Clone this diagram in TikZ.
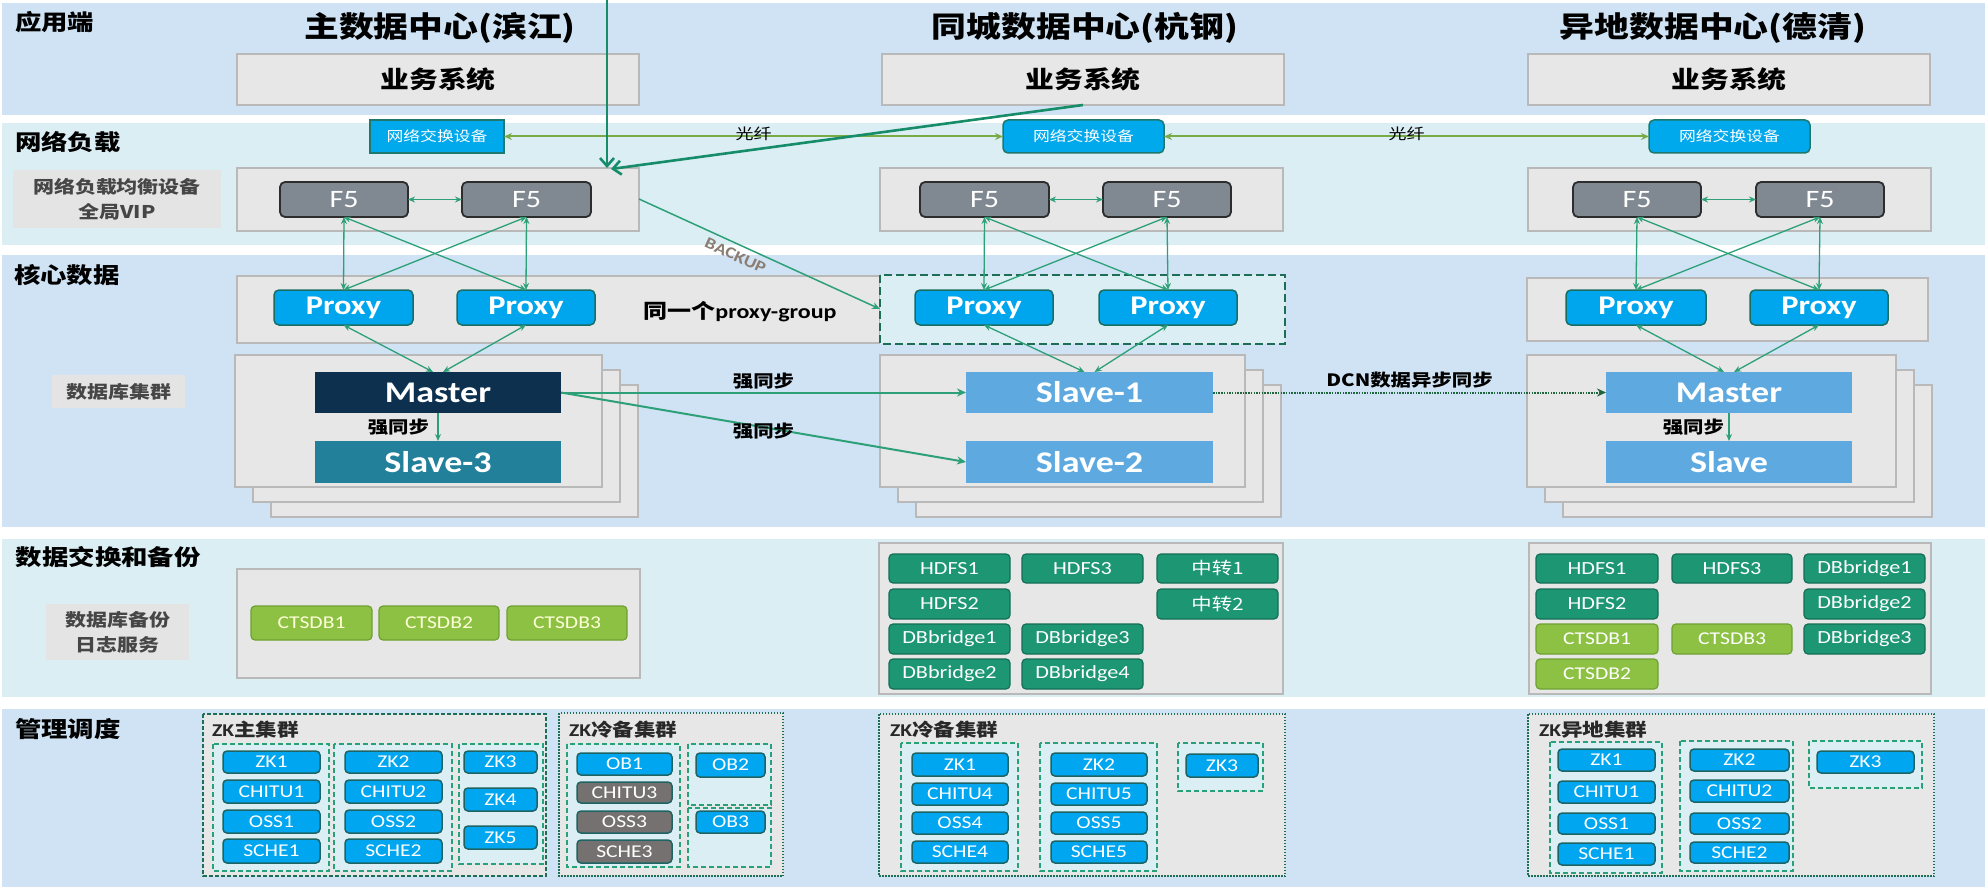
\documentclass[tikz,border=0pt]{standalone}
\usepackage{fontspec}
\setmainfont{Carlito}[FakeStretch=1.2]
\newfontfamily\zh{Noto Sans CJK SC}[FakeStretch=1.2]
\usetikzlibrary{arrows.meta,calc}
\definecolor{bandA}{RGB}{207,227,244}
\definecolor{bandB}{RGB}{218,238,244}
\definecolor{gfill}{RGB}{231,231,231}
\definecolor{gborder}{RGB}{185,185,185}
\definecolor{lfill}{RGB}{228,228,228}
\definecolor{ltext}{RGB}{70,70,70}
\definecolor{swblue}{RGB}{0,168,236}
\definecolor{swborder}{RGB}{30,120,110}
\definecolor{f5fill}{RGB}{128,136,146}
\definecolor{f5border}{RGB}{45,45,45}
\definecolor{pxblue}{RGB}{0,166,237}
\definecolor{pxborder}{RGB}{25,110,100}
\definecolor{navy}{RGB}{12,48,78}
\definecolor{slvthree}{RGB}{34,128,155}
\definecolor{lblue}{RGB}{94,170,224}
\definecolor{tealg}{RGB}{28,150,115}
\definecolor{tealb}{RGB}{20,110,85}
\definecolor{lgreen}{RGB}{141,193,68}
\definecolor{lgborder}{RGB}{110,160,50}
\definecolor{ctext}{RGB}{255,255,215}
\definecolor{zkblue}{RGB}{0,166,240}
\definecolor{zkborder}{RGB}{30,100,100}
\definecolor{zkgray}{RGB}{118,113,113}
\definecolor{lcyan}{RGB}{218,238,243}
\definecolor{grpc}{RGB}{40,160,120}
\definecolor{darkg}{RGB}{30,110,85}
\definecolor{cgreen}{RGB}{45,160,120}
\definecolor{tgreen}{RGB}{22,140,105}
\definecolor{fibg}{RGB}{120,170,70}
\definecolor{dcncol}{RGB}{30,100,60}
\definecolor{bktext}{RGB}{140,125,115}
\newcommand\fs[2]{\fontsize{#1}{#2}\selectfont}
\newcommand\bx[7]{\node[#1,minimum width={#4pt-#2pt},minimum height={#5pt-#3pt}] (#7) at ({(#2+#4)/2},{(#3+#5)/2}) {#6};}
\tikzset{
  every node/.style={inner sep=0pt,outer sep=0pt},
  gbox/.style={draw=gborder,fill=gfill,line width=1.5pt},
  sec/.style={anchor=west,font={\zh\bfseries\fs{22}{24}}},
  ttl/.style={font={\zh\bfseries\fs{29}{32}}},
  biz/.style={gbox,font={\zh\bfseries\fs{24}{28}}},
  labbox/.style={fill=lfill,text=ltext,align=center,font={\zh\bfseries\fs{17.5}{25}}},
  sw/.style={fill=swblue,draw=swborder,line width=1.5pt,text=white,font={\zh\fs{14}{16}}},
  f5/.style={fill=f5fill,draw=f5border,line width=1.8pt,rounded corners=5pt,text=white,font={\fs{25}{28}}},
  px/.style={fill=pxblue,draw=pxborder,line width=1.5pt,rounded corners=5pt,text=white,font={\bfseries\fs{27}{28}}},
  dbb/.style={text=white,font={\bfseries\fs{30}{32}}},
  tbox/.style={fill=tealg,draw=tealb,line width=1.2pt,rounded corners=4pt,text=white,font={\fs{18.5}{20}}},
  lgbox/.style={fill=lgreen,draw=lgborder,line width=1.2pt,rounded corners=4pt,text=ctext,font={\fs{18}{20}}},
  zk/.style={fill=zkblue,draw=zkborder,line width=1.5pt,rounded corners=4pt,text=white,font={\fs{18}{20}}},
  zkg/.style={zk,fill=zkgray},
  grp/.style={fill=lcyan,draw=grpc,line width=1.8pt,dash pattern=on 5pt off 3pt},
  zkmain/.style={fill=gfill,draw=darkg,line width=1.5pt,dash pattern=on 4pt off 2pt},
  zkcold/.style={fill=gfill,draw=darkg,line width=1.2pt,dash pattern=on 1.5pt off 1.5pt},
  zklab/.style={anchor=west,text={rgb,255:red,40;green,40;blue,40},font={\bfseries\fs{18}{20}}},
  thinc/.style={draw=cgreen,line width=1.3pt,{Stealth[length=7pt,width=6pt]}-{Stealth[length=7pt,width=6pt]}},
  thickarr/.style={draw=tgreen,line width=2.6pt,-{Straight Barb[length=8pt,width=14pt]}},
  fiber/.style={draw=fibg,line width=2pt,{Stealth[length=8pt,width=7pt]}-{Stealth[length=8pt,width=7pt]}},
  fiblab/.style={font={\zh\fs{15}{17}},yshift=3pt},
  sync/.style={draw=cgreen,line width=1.6pt,-{Stealth[length=7pt,width=6pt]}},
  syncB/.style={draw=cgreen,line width=2pt,-{Stealth[length=9pt,width=8pt]}},
  synclab/.style={font={\zh\bfseries\fs{17}{19}}},
  dcn/.style={draw=dcncol,line width=2pt,dash pattern=on 1.5pt off 1.2pt,-{Stealth[length=9pt,width=8pt]}},
  bklab/.style={text=bktext,font={\bfseries\fs{16}{18}}},
  bkline/.style={draw=cgreen,line width=1.5pt,-{Stealth[length=8pt,width=7pt]}},
  pgbox/.style={fill=lcyan,draw=darkg,line width=2.5pt,dash pattern=on 8pt off 4pt}
}
\begin{document}
\begin{tikzpicture}[x=1pt,y=-1pt]
\useasboundingbox (0,0) rectangle (1987,888);
\fill[white] (0,0) rectangle (1987,888);
% bands
\fill[bandA] (2,3) rectangle (1985,115);
\fill[bandB] (2,123) rectangle (1985,245);
\fill[bandA] (2,255) rectangle (1985,527);
\fill[bandB] (2,539) rectangle (1985,697);
\fill[bandA] (2,709) rectangle (1985,887);
% section labels
\node[sec] (secApp) at (15,22) {应用端};
\node[sec] (secNet) at (15,142) {网络负载};
\node[sec] (secCore) at (14,275) {核心数据};
\node[sec] (secEx) at (16,557) {数据交换和备份};
\node[sec] (secMg) at (15,729) {管理调度};
% titles
\node[ttl] (tMain) at (440,28) {主数据中心(滨江)};
\node[ttl] (tMid) at (1085,28) {同城数据中心(杭钢)};
\node[ttl] (tRem) at (1713,28) {异地数据中心(德清)};
% business systems
\bx{biz}{237}{54}{639}{105}{业务系统}{bizL}
\bx{biz}{882}{54}{1284}{105}{业务系统}{bizM}
\bx{biz}{1528}{54}{1930}{105}{业务系统}{bizR}
% switches
\bx{sw}{370}{120}{504}{153}{网络交换设备}{swL}
\bx{sw,rounded corners=5pt}{1003}{120}{1164}{153}{网络交换设备}{swM}
\bx{sw,rounded corners=5pt}{1649}{120}{1810}{153}{网络交换设备}{swR}
% label boxes
\bx{labbox}{13}{170}{221}{228}{网络负载均衡设备\\全局VIP}{lbNet}
\bx{labbox}{52}{375}{185}{408}{数据库集群}{lbDb}
\bx{labbox}{46}{604}{189}{660}{数据库备份\\日志服务}{lbBk}
% F5 containers and boxes
\draw[gbox] (237,168) rectangle (639,231);
\draw[gbox] (880,168) rectangle (1283,231);
\draw[gbox] (1528,168) rectangle (1931,231);
\coordinate (f5LE) at (639,199);
\coordinate (arrEnd) at (607,168);
\coordinate (arrEnd2) at (611,169);
\bx{f5}{280}{182}{408}{217}{F5}{f5L1}
\bx{f5}{462}{182}{591}{217}{F5}{f5L2}
\bx{f5}{920}{182}{1049}{217}{F5}{f5M1}
\bx{f5}{1103}{182}{1231}{217}{F5}{f5M2}
\bx{f5}{1573}{182}{1701}{217}{F5}{f5R1}
\bx{f5}{1756}{182}{1884}{217}{F5}{f5R2}
% proxy containers
\draw[gbox] (237,276) rectangle (880,343);
\draw[gbox] (1527,278) rectangle (1928,341);
\draw[pgbox] (880,275) rectangle (1285,344);
\coordinate (pgW) at (880,309);
\bx{px}{274}{290}{413}{325}{Proxy}{pxL1}
\bx{px}{457}{290}{595}{325}{Proxy}{pxL2}
\bx{px}{915}{290}{1053}{325}{Proxy}{pxM1}
\bx{px}{1099}{290}{1237}{325}{Proxy}{pxM2}
\bx{px}{1566}{290}{1706}{325}{Proxy}{pxR1}
\bx{px}{1750}{290}{1888}{325}{Proxy}{pxR2}
\node[font={\bfseries\fs{20}{22}}] (pgLab) at (740,312) {{\zh 同一个}proxy-group};
% DB stacks
\draw[gbox] (271,385) rectangle (638,517);
\draw[gbox] (253,370) rectangle (620,502);
\draw[gbox] (235,355) rectangle (602,487);
\draw[gbox] (916,385) rectangle (1281,517);
\draw[gbox] (898,370) rectangle (1263,502);
\draw[gbox] (880,355) rectangle (1245,487);
\draw[gbox] (1563,385) rectangle (1932,517);
\draw[gbox] (1545,370) rectangle (1914,502);
\draw[gbox] (1527,355) rectangle (1896,487);
\bx{dbb,fill=navy}{315}{372}{561}{413}{Master}{mL}
\bx{dbb,fill=slvthree}{315}{441}{561}{483}{Slave-3}{s3}
\bx{dbb,fill=lblue}{966}{372}{1213}{413}{Slave-1}{s1}
\bx{dbb,fill=lblue}{966}{441}{1213}{483}{Slave-2}{s2}
\bx{dbb,fill=lblue}{1606}{372}{1852}{413}{Master}{mR}
\bx{dbb,fill=lblue}{1606}{441}{1852}{483}{Slave}{sR}
% data exchange
\draw[gbox] (237,569) rectangle (640,678);
\bx{lgbox}{251}{606}{372}{640}{CTSDB1}{ctL1}
\bx{lgbox}{379}{606}{499}{640}{CTSDB2}{ctL2}
\bx{lgbox}{507}{606}{627}{640}{CTSDB3}{ctL3}
\draw[gbox] (879,543) rectangle (1283,694);
\bx{tbox}{889}{554}{1010}{583}{HDFS1}{hM1}
\bx{tbox}{1022}{554}{1143}{583}{HDFS3}{hM3}
\bx{tbox,font={\zh\fs{17}{20}}}{1157}{554}{1278}{583}{中转1}{zzM1}
\bx{tbox}{889}{589}{1010}{619}{HDFS2}{hM2}
\bx{tbox,font={\zh\fs{17}{20}}}{1157}{589}{1278}{619}{中转2}{zzM2}
\bx{tbox}{889}{624}{1010}{654}{DBbridge1}{dbM1}
\bx{tbox}{1022}{624}{1143}{654}{DBbridge3}{dbM3}
\bx{tbox}{889}{659}{1010}{689}{DBbridge2}{dbM2}
\bx{tbox}{1022}{659}{1143}{689}{DBbridge4}{dbM4}
\draw[gbox] (1529,543) rectangle (1931,694);
\bx{tbox}{1536}{554}{1658}{583}{HDFS1}{hR1}
\bx{tbox}{1672}{554}{1792}{583}{HDFS3}{hR3}
\bx{tbox}{1804}{554}{1925}{583}{DBbridge1}{dbR1}
\bx{tbox}{1536}{589}{1658}{619}{HDFS2}{hR2}
\bx{tbox}{1804}{589}{1925}{619}{DBbridge2}{dbR2}
\bx{lgbox,text=white}{1536}{624}{1658}{654}{CTSDB1}{ctR1}
\bx{lgbox,text=white}{1672}{624}{1792}{654}{CTSDB3}{ctR3}
\bx{tbox}{1804}{624}{1925}{654}{DBbridge3}{dbR3}
\bx{lgbox,text=white}{1536}{659}{1658}{689}{CTSDB2}{ctR2}
% management: ZK main
\draw[zkmain] (203,714) rectangle (546,876);
\node[zklab] (zkMainLab) at (212,730) {ZK{\zh 主集群}};
\draw[grp] (213,744) rectangle (329,871);
\draw[grp] (334,744) rectangle (452,871);
\draw[grp] (459,744) rectangle (543,864);
\bx{zk}{223}{751}{320}{773}{ZK1}{a1}
\bx{zk}{223}{780}{320}{803}{CHITU1}{a2}
\bx{zk}{223}{810}{320}{833}{OSS1}{a3}
\bx{zk}{223}{839}{320}{863}{SCHE1}{a4}
\bx{zk}{345}{751}{442}{773}{ZK2}{b1}
\bx{zk}{345}{780}{442}{803}{CHITU2}{b2}
\bx{zk}{345}{810}{442}{833}{OSS2}{b3}
\bx{zk}{345}{839}{442}{863}{SCHE2}{b4}
\bx{zk}{464}{751}{537}{773}{ZK3}{c1}
\bx{zk}{464}{788}{537}{811}{ZK4}{c2}
\bx{zk}{464}{826}{537}{849}{ZK5}{c3}
% ZK cold left
\draw[zkcold] (559,713) rectangle (783,876);
\node[zklab] (zkColdLab1) at (569,730) {ZK{\zh 冷备集群}};
\draw[grp] (567,744) rectangle (680,867);
\draw[grp] (688,744) rectangle (771,805);
\draw[grp] (688,808) rectangle (771,867);
\bx{zk}{577}{753}{672}{775}{OB1}{d1}
\bx{zkg}{577}{782}{672}{803}{CHITU3}{d2}
\bx{zkg}{577}{811}{672}{833}{OSS3}{d3}
\bx{zkg}{577}{840}{672}{863}{SCHE3}{d4}
\bx{zk}{696}{753}{765}{777}{OB2}{e1}
\bx{zk}{696}{811}{765}{833}{OB3}{e2}
% ZK cold middle
\draw[zkcold] (879,714) rectangle (1285,876);
\node[zklab] (zkColdLab2) at (890,730) {ZK{\zh 冷备集群}};
\draw[grp] (901,743) rectangle (1018,871);
\draw[grp] (1040,743) rectangle (1157,871);
\draw[grp] (1178,743) rectangle (1263,791);
\bx{zk}{912}{753}{1008}{776}{ZK1}{f1}
\bx{zk}{912}{783}{1008}{805}{CHITU4}{f2}
\bx{zk}{912}{812}{1008}{834}{OSS4}{f3}
\bx{zk}{912}{841}{1008}{863}{SCHE4}{f4}
\bx{zk}{1051}{753}{1147}{776}{ZK2}{g1}
\bx{zk}{1051}{783}{1147}{805}{CHITU5}{g2}
\bx{zk}{1051}{812}{1147}{834}{OSS5}{g3}
\bx{zk}{1051}{841}{1147}{863}{SCHE5}{g4}
\bx{zk}{1186}{754}{1258}{777}{ZK3}{h1}
% ZK remote
\draw[zkcold] (1528,714) rectangle (1934,876);
\node[zklab] (zkRemLab) at (1539,730) {ZK{\zh 异地集群}};
\draw[grp] (1550,742) rectangle (1662,873);
\draw[grp] (1680,741) rectangle (1793,871);
\draw[grp] (1809,741) rectangle (1922,788);
\bx{zk}{1558}{749}{1655}{771}{ZK1}{i1}
\bx{zk}{1558}{781}{1655}{803}{CHITU1}{i2}
\bx{zk}{1558}{813}{1655}{834}{OSS1}{i3}
\bx{zk}{1558}{843}{1655}{865}{SCHE1}{i4}
\bx{zk}{1690}{749}{1789}{771}{ZK2}{j1}
\bx{zk}{1690}{780}{1789}{802}{CHITU2}{j2}
\bx{zk}{1690}{813}{1789}{834}{OSS2}{j3}
\bx{zk}{1690}{842}{1789}{863}{SCHE2}{j4}
\bx{zk}{1817}{751}{1914}{773}{ZK3}{k1}
% ---- connectors ----
\draw[fiber] (swL.east) -- node[fiblab] (fib1) {光纤} (swM.west);
\draw[fiber] (swM.east) -- node[fiblab] (fib2) {光纤} (swR.west);
\foreach \s in {L,M,R}{
  \draw[thinc] (f5\s1.east) -- (f5\s2.west);
  \draw[thinc] (f5\s1.south) -- (px\s1.north);
  \draw[thinc] (f5\s1.south) -- (px\s2.north);
  \draw[thinc] (f5\s2.south) -- (px\s1.north);
  \draw[thinc] (f5\s2.south) -- (px\s2.north);
}
\draw[thinc] (pxL1.south) -- ([xshift=-5pt]mL.north);
\draw[thinc] (pxL2.south) -- ([xshift=5pt]mL.north);
\draw[thinc] (pxM1.south) -- ([xshift=-5pt]s1.north);
\draw[thinc] (pxM2.south) -- ([xshift=5pt]s1.north);
\draw[thinc] (pxR1.south) -- ([xshift=-5pt]mR.north);
\draw[thinc] (pxR2.south) -- ([xshift=5pt]mR.north);
\draw[sync] (mL.south) -- node[synclab,left=9pt] (sy1) {强同步} (s3.north);
\draw[sync] (mR.south) -- node[synclab,left=5pt] (sy2) {强同步} (sR.north);
\draw[syncB] (mL.east) -- node[synclab,above=3pt] (sy3) {强同步} (s1.west);
\draw[syncB] (mL.east) -- node[synclab,yshift=-4pt] (sy4) {强同步} (s2.west);
\draw[dcn] (s1.east) -- node[synclab,above=4pt] (dcnLab) {DCN{\zh 数据异步同步}} (mR.west);
\draw[bkline] (f5LE) -- node[bklab,sloped,below=6pt,pos=0.42] (bkLab) {BACKUP} (pgW);
\coordinate (topin) at (607,0);
\draw[thickarr] (topin) -- (arrEnd);
\draw[thickarr] (bizM.south) -- (arrEnd2);
\end{tikzpicture}
\end{document}
